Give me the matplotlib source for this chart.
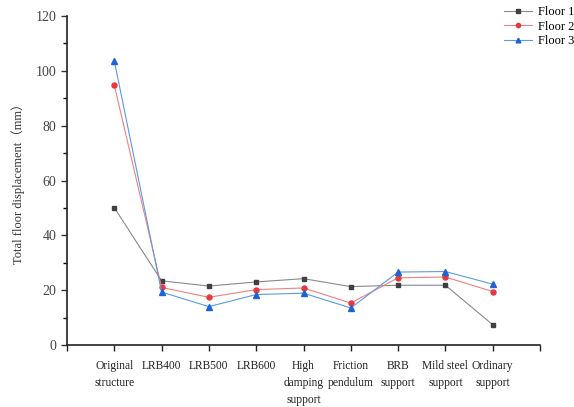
import matplotlib
matplotlib.use("Agg")
import matplotlib.pyplot as plt
from matplotlib.ticker import MultipleLocator

categories = ["Original\nstructure", "LRB400", "LRB500", "LRB600", "High\ndamping\nsupport",
              "Friction\npendulum", "BRB\nsupport", "Mild steel\nsupport", "Ordinary\nsupport"]
floor1 = [50.1, 23.4, 21.5, 23.0, 24.2, 21.3, 21.8, 21.8, 7.4]
floor2 = [94.8, 21.0, 17.4, 20.2, 20.8, 15.3, 24.5, 24.8, 19.5]
floor3 = [103.6, 19.3, 14.0, 18.4, 18.9, 13.5, 26.6, 26.8, 22.2]
series_names = ["Floor 1", "Floor 2", "Floor 3"]

plt.rcParams['font.family'] = ['Liberation Serif', 'Noto Sans CJK SC', 'DejaVu Sans']

fig = plt.figure(figsize=(5.74, 4.07), dpi=100)
ax = fig.add_axes([67/574, 1-345/407, (540-67)/574, (345-16)/407])

x = list(range(1, len(categories)+1))
styles = [
    dict(color="#8a8a8a", mfc="#404040", mec="#404040", marker="s", ms=3.3),
    dict(color="#f08080", mfc="#e8383d", mec="#e8383d", marker="o", ms=3.6),
    dict(color="#5a9ae6", mfc="#1f62d8", mec="#1f62d8", marker="^", ms=4.0),
]
for vals, name, st in zip([floor1, floor2, floor3], series_names, styles):
    ax.plot(x, vals, lw=0.8, label=name, **st)

ax.set_xlim(0, 10)
ax.set_ylim(0, 120)
ax.set_xticks([0] + x + [10])
ax.set_xticklabels([""] + categories + [""], fontsize=8.3, linespacing=1.55, va="top")
ax.yaxis.set_major_locator(MultipleLocator(20))
ax.yaxis.set_minor_locator(MultipleLocator(10))
ax.tick_params(axis="y", labelsize=10, direction="out", length=4, width=1, colors="#333333", labelcolor="#444444")
ax.tick_params(axis="y", which="minor", direction="out", length=3, width=1)
ax.tick_params(axis="x", direction="out", length=4, width=1, pad=7, colors="#222222", labelcolor="#222222")
for s in ["top", "right"]:
    ax.spines[s].set_visible(False)
for s in ["left", "bottom"]:
    ax.spines[s].set_linewidth(1.2)
    ax.spines[s].set_color("#222222")

ax.set_ylabel("Total floor displacement（mm）", fontsize=9, color="#333333", labelpad=8)

leg = fig.legend(loc="upper right", bbox_to_anchor=(1.02, 1.012), frameon=False, fontsize=9,
                 handlelength=2.2, handletextpad=0.5, labelspacing=0.2, markerscale=0.85)

fig.savefig("out.png", dpi=100)
